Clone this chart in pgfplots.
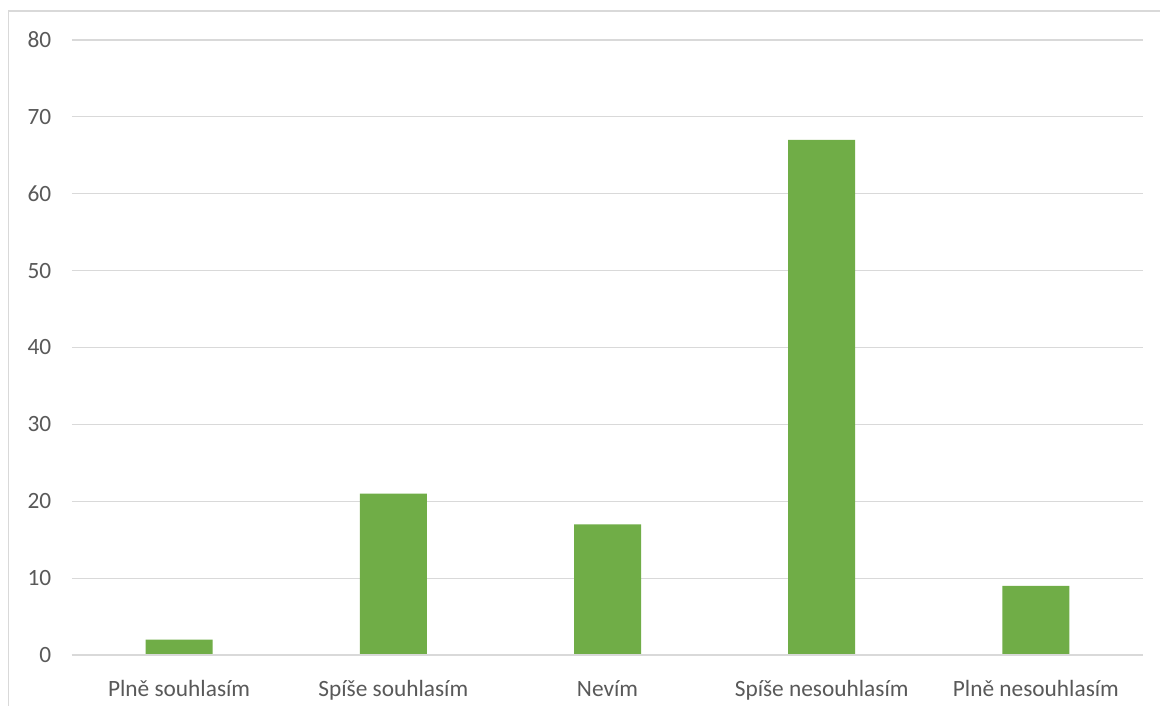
\documentclass[border=0pt]{standalone}
\usepackage{pgfplots}
\pgfplotsset{compat=1.18}
\usepackage{fontspec}
\setmainfont{Carlito}
\definecolor{bargreen}{HTML}{70AD47}
\definecolor{gridgray}{HTML}{D9D9D9}
\definecolor{labelgray}{HTML}{595959}
\begin{document}
\begin{tikzpicture}
\useasboundingbox[fill=white] (0pt,0pt) rectangle (870pt,529.5pt);
% chart frame
\draw[gridgray, line width=0.9pt] (6.4pt,0pt) -- (6.4pt,521.3pt) -- (870pt,521.3pt);
\begin{axis}[
  at={(54pt,38.25pt)}, anchor=south west,
  scale only axis,
  width=803.25pt, height=461.25pt,
  xmin=-0.5, xmax=4.5,
  ymin=0, ymax=80,
  ytick={0,10,...,80},
  xtick={0,1,2,3,4},
  xticklabels={Plně souhlasím, Spíše souhlasím, Nevím, Spíše nesouhlasím, Plně nesouhlasím},
  axis line style={draw=none},
  axis x line*=bottom,
  axis y line*=left,
  tick style={draw=none},
  ymajorgrids,
  grid style={gridgray, line width=0.9pt},
  ticklabel style={font=\fontsize{17.5}{21}\selectfont, text=labelgray},
  /pgf/number format/assume math mode=true,
  yticklabel style={xshift=-12pt},
  xticklabel style={yshift=-11pt},
  ybar, bar width=50.25pt,
  clip=false,
]
\addplot[fill=bargreen, draw=none] coordinates {(0,2) (1,21) (2,17) (3,67) (4,9)};
\draw[gridgray, line width=0.9pt] (axis cs:-0.5,0) -- (axis cs:4.5,0);
\end{axis}
\end{tikzpicture}
\end{document}
